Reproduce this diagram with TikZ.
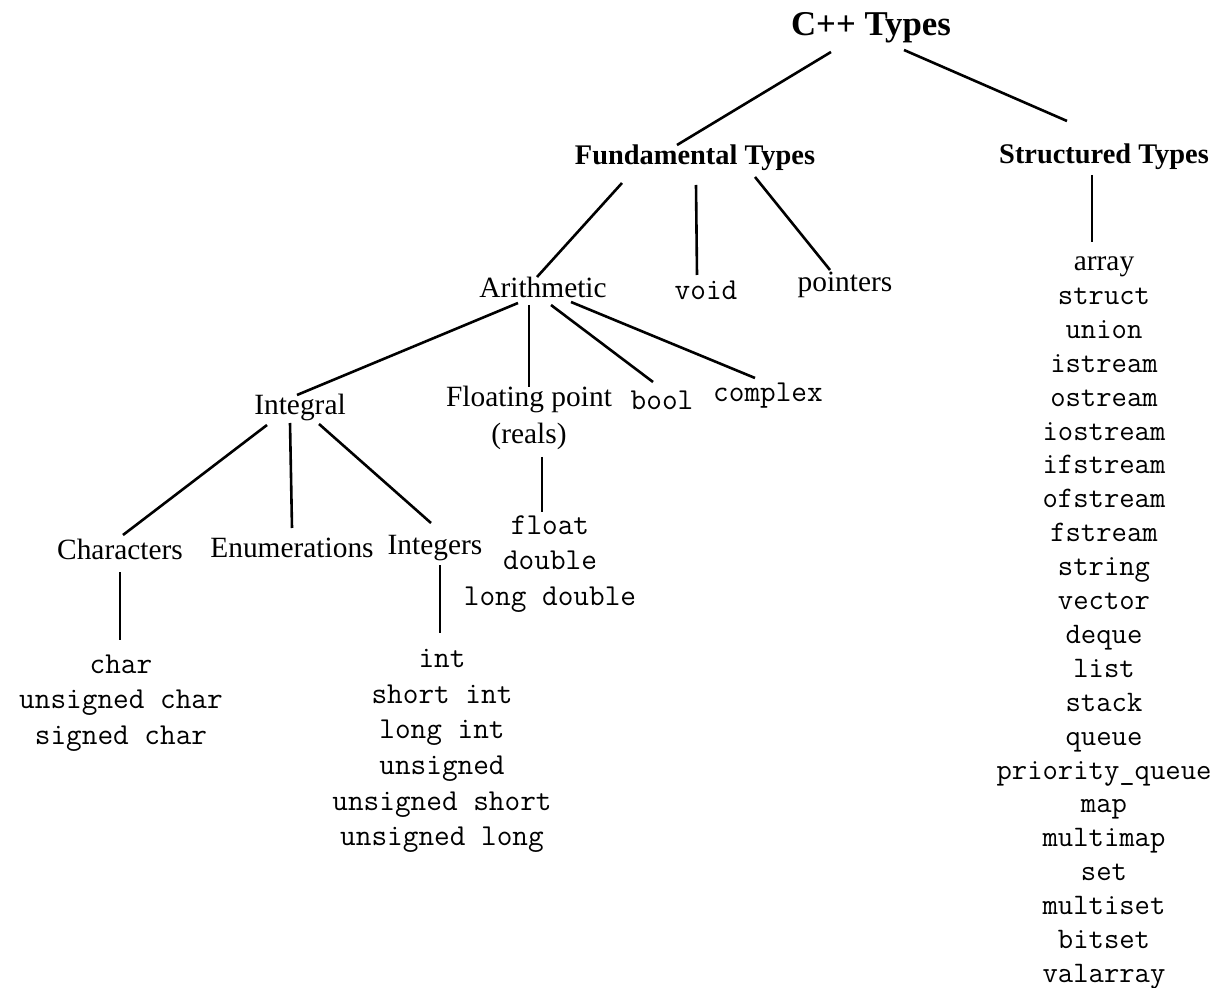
\documentclass[tikz,border=0pt]{standalone}
\usepackage{fontspec}
\setmainfont{Liberation Serif}
\begin{document}
\begin{tikzpicture}[x=0.5pt,y=-0.5pt,
  title/.style={font=\bfseries\fontsize{17.4}{20}\selectfont, inner sep=0pt},
  head/.style={font=\bfseries\fontsize{14.2}{17}\selectfont, inner sep=0pt},
  lbl/.style={font=\fontsize{14.7}{18.5}\selectfont, inner sep=0pt, align=center},
  code/.style={font=\ttfamily\fontsize{15.2}{17.8}\selectfont, inner sep=0pt, align=center},
  codelist/.style={font=\ttfamily\fontsize{14.9}{16.95}\selectfont, inner sep=0pt, align=center},
  edge/.style={line width=1.3pt, black}]
\useasboundingbox (0,0) rectangle (1225,988);
% nodes
\node[title] (cpp) at (871,28) {C++ Types};
\node[head] (fund) at (695,158) {Fundamental Types};
\node[head] (struc) at (1104,157) {Structured Types};
\node[lbl] (arith) at (543,287) {Arithmetic};
\node[code] (void) at (706,290) {void};
\node[lbl] (ptr) at (845,285) {pointers};
\node[lbl] (integral) at (300,407) {Integral};
\node[lbl] (float) at (529,418) {Floating point\\(reals)};
\node[code] (bool) at (662,400) {bool};
\node[code] (complex) at (768,396) {complex};
\node[lbl] (chars) at (120,549) {Characters};
\node[lbl] (enums) at (292,548) {Enumerations};
\node[lbl] (integers) at (435,548) {Integers};
\node[code] (floatlist) at (550,564) {float\\double\\long double};
\node[code] (charlist) at (121,703) {char\\unsigned char\\signed char};
\node[code] (intlist) at (442,751) {int\\short int\\long int\\unsigned\\unsigned short\\unsigned long};
\node[codelist] (structlist) at (1104,623) {{\rmfamily\fontsize{14.7}{16.95}\selectfont array}\\struct\\union\\istream\\ostream\\iostream\\ifstream\\ofstream\\fstream\\string\\vector\\deque\\list\\stack\\queue\\priority\_queue\\map\\multimap\\set\\multiset\\bitset\\valarray};
% connectors
\draw[edge] ([shift={(-40,24)}]cpp.center) -- ([shift={(-18,-13)}]fund.center);
\draw[edge] ([shift={(33,22)}]cpp.center) -- ([shift={(-37,-36)}]struc.center);
\draw[edge] ([shift={(-73,25)}]fund.center) -- ([shift={(-6,-10)}]arith.center);
\draw[edge] ([shift={(1,27)}]fund.center) -- ([shift={(-9,-15)}]void.center);
\draw[edge] ([shift={(60,19)}]fund.center) -- ([shift={(-15,-15)}]ptr.center);
\draw[edge] ([shift={(-12,18)}]struc.center) -- ([shift={(-12,-381)}]structlist.center);
\draw[edge] ([shift={(-25,16)}]arith.center) -- ([shift={(-3,-12)}]integral.center);
\draw[edge] ([shift={(-14,18)}]arith.center) -- ([shift={(0,-31)}]float.center);
\draw[edge] ([shift={(8,18)}]arith.center) -- ([shift={(-9,-18)}]bool.center);
\draw[edge] ([shift={(28,15)}]arith.center) -- ([shift={(-13,-18)}]complex.center);
\draw[edge] ([shift={(-33,18)}]integral.center) -- ([shift={(3,-14)}]chars.center);
\draw[edge] ([shift={(-10,16)}]integral.center) -- ([shift={(0,-20)}]enums.center);
\draw[edge] ([shift={(19,17)}]integral.center) -- ([shift={(-4,-25)}]integers.center);
\draw[edge] ([shift={(13,39)}]float.center) -- ([shift={(-8,-52)}]floatlist.center);
\draw[edge] ([shift={(0,23)}]chars.center) -- ([shift={(-1,-63)}]charlist.center);
\draw[edge] ([shift={(5,17)}]integers.center) -- ([shift={(-2,-118)}]intlist.center);
\end{tikzpicture}
\end{document}
